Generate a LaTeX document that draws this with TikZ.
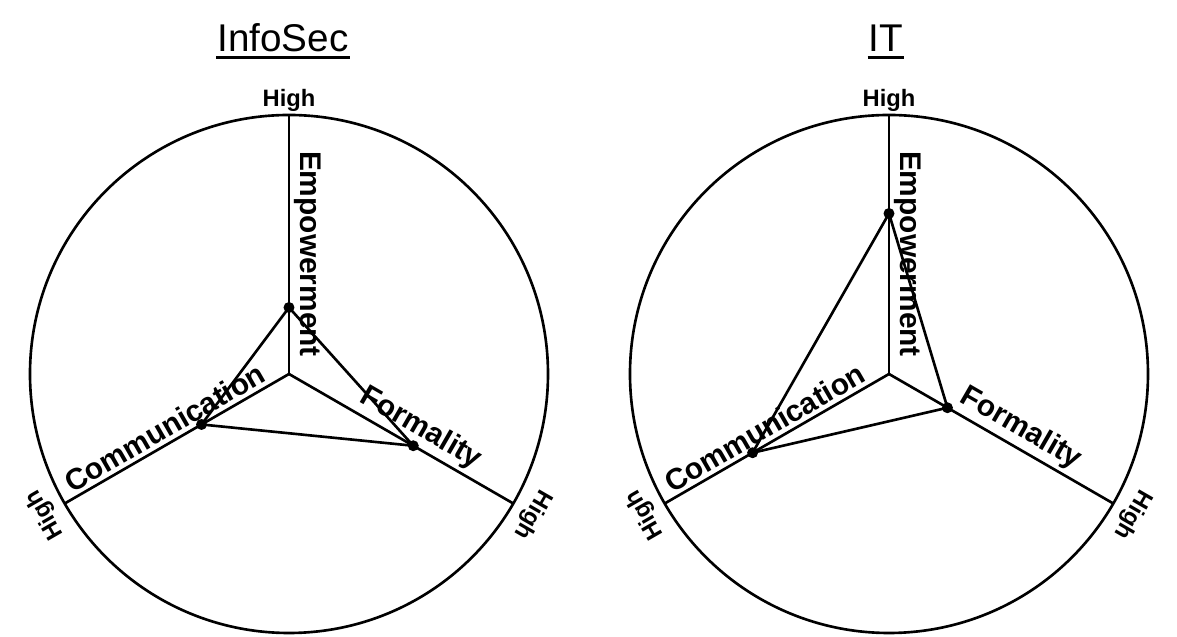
\documentclass[tikz,border=0pt]{standalone}
\usepackage{fontspec}
\setmainfont{Liberation Sans}

\begin{document}
\begin{tikzpicture}[line width=1.5pt,
    axislabel/.style={font=\fontsize{17}{20}\selectfont\bfseries,anchor=south,inner sep=2pt},
    highlabel/.style={font=\fontsize{13.5}{16}\selectfont\bfseries,anchor=south,inner sep=1pt},
    title/.style={font=\fontsize{22}{26}\selectfont,anchor=base,inner sep=0pt}]
                \useasboundingbox (-5.78,-5.26) rectangle (17.76,7.48);
                % InfoSec
                \coordinate (is0) at (0,0);
                \node[title] (infosec) at (-0.12,6.45) {InfoSec};
                \draw[line width=1.8pt] ([yshift=-3.5pt]infosec.base west)--([yshift=-3.5pt]infosec.base east);
                \draw (is0) circle (5.18);
                \coordinate (isHE) at (90:5.18);
                \coordinate (isHC) at (210:5.18);
                \coordinate (isHF) at (330:5.18);
                \draw (is0)--(isHE);
                \draw (is0)--(isHC);
                \draw (is0)--(isHF);
                \node[highlabel] (isHighE) at (isHE) {High};
                \node[highlabel,rotate=120] (isHighC) at (210:5.34) {High};
                \node[highlabel,rotate=-120] (isHighF) at (330:5.34) {High};
                \node[axislabel,rotate=-90] (isLabE) at (90:2.4) {Empowerment};
                \node[axislabel,rotate=30] (isLabC) at (210:2.69) {Communication};
                \node[axislabel,rotate=-30] (isLabF) at (330:2.83) {Formality};
                \coordinate (isE) at (90:1.33);
                \coordinate (isC) at (210:2.02);
                \coordinate (isF) at (330:2.87);
                \draw[line join=round] (isE)--(isC)--(isF)--cycle;
                \fill (isE) circle (0.11) (isC) circle (0.11) (isF) circle (0.11);
                % IT
                \begin{scope}[shift={(12,0)}]
                \coordinate (it0) at (0,0);
                \node[title] (it) at (-0.06,6.45) {IT};
                \draw[line width=1.8pt] ([yshift=-3.5pt]it.base west)--([yshift=-3.5pt]it.base east);
                \draw (it0) circle (5.18);
                \coordinate (itHE) at (90:5.18);
                \coordinate (itHC) at (210:5.18);
                \coordinate (itHF) at (330:5.18);
                \draw (it0)--(itHE);
                \draw (it0)--(itHC);
                \draw (it0)--(itHF);
                \node[highlabel] (itHighE) at (itHE) {High};
                \node[highlabel,rotate=120] (itHighC) at (210:5.34) {High};
                \node[highlabel,rotate=-120] (itHighF) at (330:5.34) {High};
                \node[axislabel,rotate=-90] (itLabE) at (90:2.4) {Empowerment};
                \node[axislabel,rotate=30] (itLabC) at (210:2.69) {Communication};
                \node[axislabel,rotate=-30] (itLabF) at (330:2.83) {Formality};
                \coordinate (itE) at (90:3.21);
                \coordinate (itC) at (210:3.15);
                \coordinate (itF) at (330:1.35);
                \draw[line join=round] (itE)--(itC)--(itF)--cycle;
                \fill (itE) circle (0.11) (itC) circle (0.11) (itF) circle (0.11);
                \end{scope}
            \end{tikzpicture}
\end{document}
